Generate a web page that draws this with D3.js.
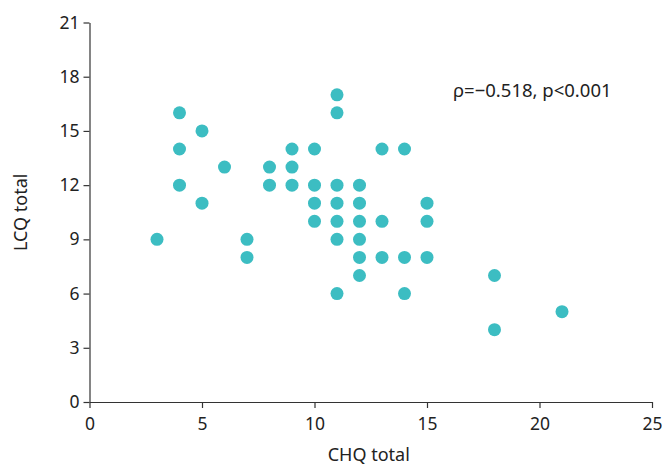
<!DOCTYPE html>
<html>
<head>
<meta charset="utf-8">
<script src="https://cdn.jsdelivr.net/npm/d3@7"></script>
<style>
  html, body { margin: 0; padding: 0; background: #fff; }
  svg { display: block; }
  text { font-family: "Noto Sans", sans-serif; fill: #222; }
</style>
</head>
<body>
<svg id="chart" width="662" height="465"></svg>
<script>
// Data
const chqTotal = [3, 4, 4, 4, 5, 5, 6, 7, 7, 8, 8, 9, 9, 9, 10, 10, 10, 10,
  11, 11, 11, 11, 11, 11, 11, 12, 12, 12, 12, 12, 12, 13, 13, 13, 14, 14, 14,
  15, 15, 15, 18, 18, 21];
const lcqTotal = [9, 16, 14, 12, 15, 11, 13, 9, 8, 13, 12, 14, 13, 12, 14, 12, 11, 10,
  17, 16, 12, 11, 10, 9, 6, 12, 11, 10, 9, 8, 7, 14, 10, 8, 14, 8, 6,
  11, 10, 8, 7, 4, 5];
const xTicks = [0, 5, 10, 15, 20, 25];
const yTicks = [0, 3, 6, 9, 12, 15, 18, 21];
const xTitle = "CHQ total";
const yTitle = "LCQ total";
const annotation = "ρ=−0.518, p<0.001";

const svg = d3.select("#chart");

const x = d3.scaleLinear().domain([0, 25]).range([89.5, 652]);
const y = d3.scaleLinear().domain([0, 21]).range([402, 22.5]);

const fontSize = 17.5;

const xAxis = svg.append("g")
  .attr("transform", `translate(0,${y(0)})`)
  .call(d3.axisBottom(x).tickValues(xTicks).tickSize(6).tickPadding(10).tickSizeOuter(0));
const yAxis = svg.append("g")
  .attr("transform", `translate(${x(0)},0)`)
  .call(d3.axisLeft(y).tickValues(yTicks).tickSize(6).tickPadding(4).tickSizeOuter(0));

[xAxis, yAxis].forEach(g => {
  g.selectAll("path.domain").attr("stroke", "#333").attr("stroke-width", 1.2);
  g.selectAll(".tick line").attr("stroke", "#333").attr("stroke-width", 1.2);
  g.selectAll(".tick text").attr("font-size", fontSize)
    .attr("font-family", '"Noto Sans", sans-serif').attr("fill", "#222");
});

svg.append("text")
  .attr("x", (x(0) + x(25)) / 2 - 2)
  .attr("y", 461)
  .attr("text-anchor", "middle")
  .attr("font-size", 18)
  .text(xTitle);

svg.append("text")
  .attr("transform", `translate(26.5,${(y(0) + y(21)) / 2})rotate(-90)`)
  .attr("text-anchor", "middle")
  .attr("font-size", 18)
  .text(yTitle);

svg.append("text")
  .attr("x", 453)
  .attr("y", 96.5)
  .attr("font-size", 18.5)
  .text(annotation);

svg.append("g")
  .selectAll("circle")
  .data(chqTotal.map((d, i) => [d, lcqTotal[i]]))
  .join("circle")
  .attr("cx", d => x(d[0]))
  .attr("cy", d => y(d[1]))
  .attr("r", 6.5)
  .attr("fill", "#3cbdc2");
</script>
</body>
</html>
